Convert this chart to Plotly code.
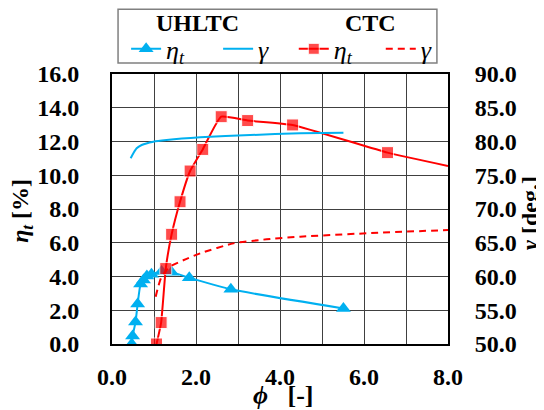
import plotly.graph_objects as go

# ---------------- data ----------------
# UHLTC efficiency (left axis)
u_phi = [0.47, 0.49, 0.56, 0.61, 0.68, 0.75, 0.83, 0.94, 1.18, 1.42, 1.84, 2.83, 5.51]
u_eta = [0.0, 0.47, 1.3, 2.37, 3.55, 3.8, 4.03, 4.13, 4.29, 4.25, 3.93, 3.24, 2.11]
# UHLTC flow angle (right axis)
u_gphi = [0.444, 0.508, 0.587, 0.706, 0.984, 1.30, 2.10, 3.29, 4.48, 5.51]
u_gam = [77.51, 78.25, 78.99, 79.48, 79.97, 80.22, 80.62, 80.96, 81.21, 81.31]
# CTC efficiency (left axis); last point is the curve end without a marker
c_phi = [1.06, 1.17, 1.28, 1.42, 1.62, 1.86, 2.16, 2.60, 3.23, 4.30, 6.56, 8.0]
c_eta = [0.0, 1.27, 4.47, 6.5, 8.43, 10.25, 11.53, 13.47, 13.24, 12.98, 11.34, 10.55]
# CTC flow angle (right axis)
c_gphi = [1.04, 1.10, 1.18, 1.38, 1.71, 2.10, 2.89, 3.68, 4.48, 6.06, 8.0]
c_gam = [57.01, 58.49, 59.97, 61.46, 62.44, 63.43, 64.91, 65.51, 65.90, 66.40, 66.89]

x_ticks = [0, 2, 4, 6, 8]
group_titles = ["UHLTC", "CTC"]
x_title = "<b><i>ϕ</i></b>\u00a0\u00a0\u00a0<b>[-]</b>"
y_title = "<b><i>η<sub>t</sub></i> [%]</b>"
y2_title = "<b><i>γ</i> [deg.]</b>"

BLUE = "#00B0F0"
RED = "#FF0000"
FONT = "Liberation Serif"
NOTICK = "rgba(0,0,0,0)"

fig = go.Figure()

fig.add_trace(go.Scatter(
    x=u_phi, y=u_eta, mode="lines+markers", name="<i>η<sub>t</sub></i>",
    legend="legend",
    line=dict(color=BLUE, width=2, shape="spline", smoothing=0.5),
    marker=dict(symbol="triangle-up", size=13, color=BLUE),
))
fig.add_trace(go.Scatter(
    x=u_gphi, y=u_gam, mode="lines", name="<i>γ</i>", yaxis="y2",
    legend="legend",
    line=dict(color=BLUE, width=2, shape="spline", smoothing=0.6),
))
c_sizes = [12] * (len(c_phi) - 1) + [0]
fig.add_trace(go.Scatter(
    x=c_phi, y=c_eta, mode="lines+markers", name="<i>η<sub>t</sub></i>",
    legend="legend2",
    line=dict(color=RED, width=2, shape="spline", smoothing=0.4),
    marker=dict(symbol="square", size=c_sizes, color=RED),
))
fig.add_trace(go.Scatter(
    x=c_gphi, y=c_gam, mode="lines", name="<i>γ</i>", yaxis="y2",
    legend="legend2",
    line=dict(color=RED, width=2, dash="7px,5px", shape="spline", smoothing=0.6),
))

GRID = "#404040"
BOLD = dict(family=FONT, size=24, color="black", weight="bold")
fig.update_layout(
    width=544, height=410,
    margin=dict(l=104, r=104, t=66, b=74, autoexpand=False),
    paper_bgcolor="white", plot_bgcolor="white",
    font=dict(family=FONT, size=22, color="black"),
    xaxis=dict(
        range=[0, 8], tickvals=x_ticks, tickformat=".1f",
        showgrid=True, gridcolor=GRID, gridwidth=1,
        minor=dict(dtick=1, showgrid=True, gridcolor=GRID, gridwidth=1),
        showline=True, linecolor="black", linewidth=2, mirror=True,
        ticks="outside", ticklen=10, tickcolor=NOTICK, automargin=False,
        tickfont=BOLD, zeroline=False,
    ),
    yaxis=dict(
        range=[0, 16], dtick=2, tickformat=".1f",
        showgrid=True, gridcolor=GRID, gridwidth=1,
        showline=True, linecolor="black", linewidth=2, mirror=True,
        ticks="outside", ticklen=26, tickcolor=NOTICK, automargin=False,
        tickfont=BOLD, zeroline=False,
    ),
    yaxis2=dict(
        range=[50, 90], dtick=5, tickformat=".1f", overlaying="y", side="right",
        showgrid=False, showline=True, linecolor="black", linewidth=2,
        ticks="outside", ticklen=20, tickcolor=NOTICK, automargin=False,
        tickfont=BOLD, zeroline=False,
    ),
    legend=dict(
        orientation="h", x=0.042, xanchor="left", y=1.093, yanchor="middle",
        bgcolor="rgba(0,0,0,0)", borderwidth=0,
        font=dict(family=FONT, size=26, color="black"),
        itemwidth=30, tracegroupgap=0, entrywidth=47,
    ),
    legend2=dict(
        orientation="h", x=0.541, xanchor="left", y=1.093, yanchor="middle",
        bgcolor="rgba(0,0,0,0)", borderwidth=0,
        font=dict(family=FONT, size=26, color="black"),
        itemwidth=30, tracegroupgap=0, entrywidth=42,
    ),
    annotations=[
        dict(text=f"<b>{group_titles[0]}</b>", xref="paper", yref="paper",
             x=0.253, y=1.189, xanchor="center", yanchor="middle",
             showarrow=False, font=BOLD),
        dict(text=f"<b>{group_titles[1]}</b>", xref="paper", yref="paper",
             x=0.768, y=1.189, xanchor="center", yanchor="middle",
             showarrow=False, font=BOLD),
        dict(text=x_title, xref="paper", yref="paper",
             x=0.51, y=-0.19, xanchor="center", yanchor="middle",
             showarrow=False, font=dict(family=FONT, size=26, color="black")),
        dict(text=y_title, xref="paper", yref="paper", textangle=-90,
             x=-0.268, y=0.493, xanchor="center", yanchor="middle",
             showarrow=False, font=dict(family=FONT, size=24, color="black")),
        dict(text=y2_title, xref="paper", yref="paper", textangle=-90,
             x=1.244, y=0.485, xanchor="center", yanchor="middle",
             showarrow=False, font=dict(family=FONT, size=24, color="black")),
    ],
    shapes=[dict(type="rect", xref="paper", yref="paper",
                 x0=0.018, x1=0.967, y0=1.041, y1=1.240,
                 line=dict(color="#808080", width=1.5))],
    showlegend=True,
)

fig.write_html("out.html")
